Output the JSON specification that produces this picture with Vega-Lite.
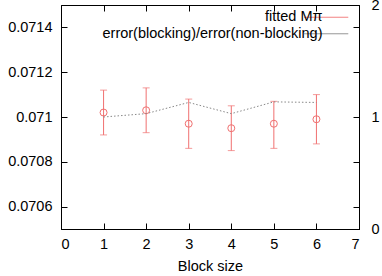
{
  "$schema": "https://vega.github.io/schema/vega-lite/v6.json",
  "width": 298,
  "height": 224,
  "autosize": {"type": "none"},
  "padding": {"left": 61, "top": 5, "right": 23, "bottom": 47},
  "config": {
    "font": "Liberation Sans",
    "view": {"stroke": "#000", "strokeWidth": 1},
    "axis": {"grid": false, "labelFontSize": 14.5, "titleFontSize": 14.5, "labelColor": "#000", "titleColor": "#000", "titleFontWeight": "normal", "domainColor": "#000", "tickColor": "#000", "labelFont": "Liberation Sans", "titleFont": "Liberation Sans"}
  },
  "data": {
    "values": [
      {"block": 1, "mass": 0.07102, "lo": 0.07092, "hi": 0.07112, "ratio": 1.0},
      {"block": 2, "mass": 0.07103, "lo": 0.07093, "hi": 0.07113, "ratio": 1.03},
      {"block": 3, "mass": 0.07097, "lo": 0.07086, "hi": 0.07108, "ratio": 1.13},
      {"block": 4, "mass": 0.07095, "lo": 0.07085, "hi": 0.07105, "ratio": 1.03},
      {"block": 5, "mass": 0.07097, "lo": 0.07086, "hi": 0.07107, "ratio": 1.135},
      {"block": 6, "mass": 0.07099, "lo": 0.07088, "hi": 0.07110, "ratio": 1.13}
    ]
  },
  "layer": [
    {
      "layer": [
        {
          "mark": {"type": "errorbar", "ticks": {"size": 7}, "color": "#f07070", "thickness": 1},
          "encoding": {
            "x": {"field": "block", "type": "quantitative", "scale": {"domain": [0, 7], "nice": false},
              "axis": {"values": [0, 1, 2, 3, 4, 5, 6, 7], "tickSize": -6, "labelPadding": 14, "title": "Block size", "titlePadding": 9}},
            "y": {"field": "lo", "type": "quantitative", "scale": {"domain": [0.0705, 0.0715], "nice": false, "zero": false}},
            "y2": {"field": "hi"}
          }
        },
        {
          "mark": {"type": "point", "shape": "circle", "filled": false, "size": 49, "strokeWidth": 1, "opacity": 1},
          "encoding": {
            "x": {"field": "block", "type": "quantitative"},
            "y": {"field": "mass", "type": "quantitative", "scale": {"domain": [0.0705, 0.0715], "nice": false, "zero": false},
              "axis": {"values": [0.0706, 0.0708, 0.071, 0.0712, 0.0714], "format": "~g", "tickSize": -6, "labelPadding": 15, "title": null}},
            "stroke": {"datum": "fitted Mπ", "type": "nominal",
              "scale": {"domain": ["fitted Mπ", "error(blocking)/error(non-blocking)"], "range": ["#f07070", "#888888"]},
              "legend": {
                "orient": "none", "legendX": 237, "legendY": 5, "title": null, "padding": 0,
                "labelFontSize": 14.5, "labelFont": "Liberation Sans", "labelColor": "#000",
                "labelAlign": "right", "labelOffset": -11, "labelLimit": 0,
                "symbolType": "M-22,0H22", "symbolSize": 4, "symbolOffset": 21, "symbolStrokeWidth": 1, "symbolOpacity": 1,
                "symbolFillColor": "transparent", "symbolDash": [1, 0],
                "rowPadding": 1.5
              }
            }
          }
        }
      ]
    },
    {
      "mark": {"type": "line", "strokeDash": [1.5, 2], "strokeWidth": 1, "color": "#888888"},
      "encoding": {
        "x": {"field": "block", "type": "quantitative", "scale": {"domain": [0, 7], "nice": false},
          "axis": {"orient": "top", "values": [1, 2, 3, 4, 5, 6], "labels": false, "tickSize": -6, "title": null}},
        "y": {"field": "ratio", "type": "quantitative", "scale": {"domain": [0, 2], "nice": false},
          "axis": {"orient": "right", "values": [0, 0.2, 0.6, 1, 1.4, 1.8, 2], "format": "~g", "labelExpr": "datum.value === 0 || datum.value === 1 || datum.value === 2 ? datum.label : ''", "tickSize": -6, "labelPadding": 18, "title": null}}
      }
    }
  ],
  "resolve": {"scale": {"y": "independent"}, "axis": {"x": "independent"}}
}
